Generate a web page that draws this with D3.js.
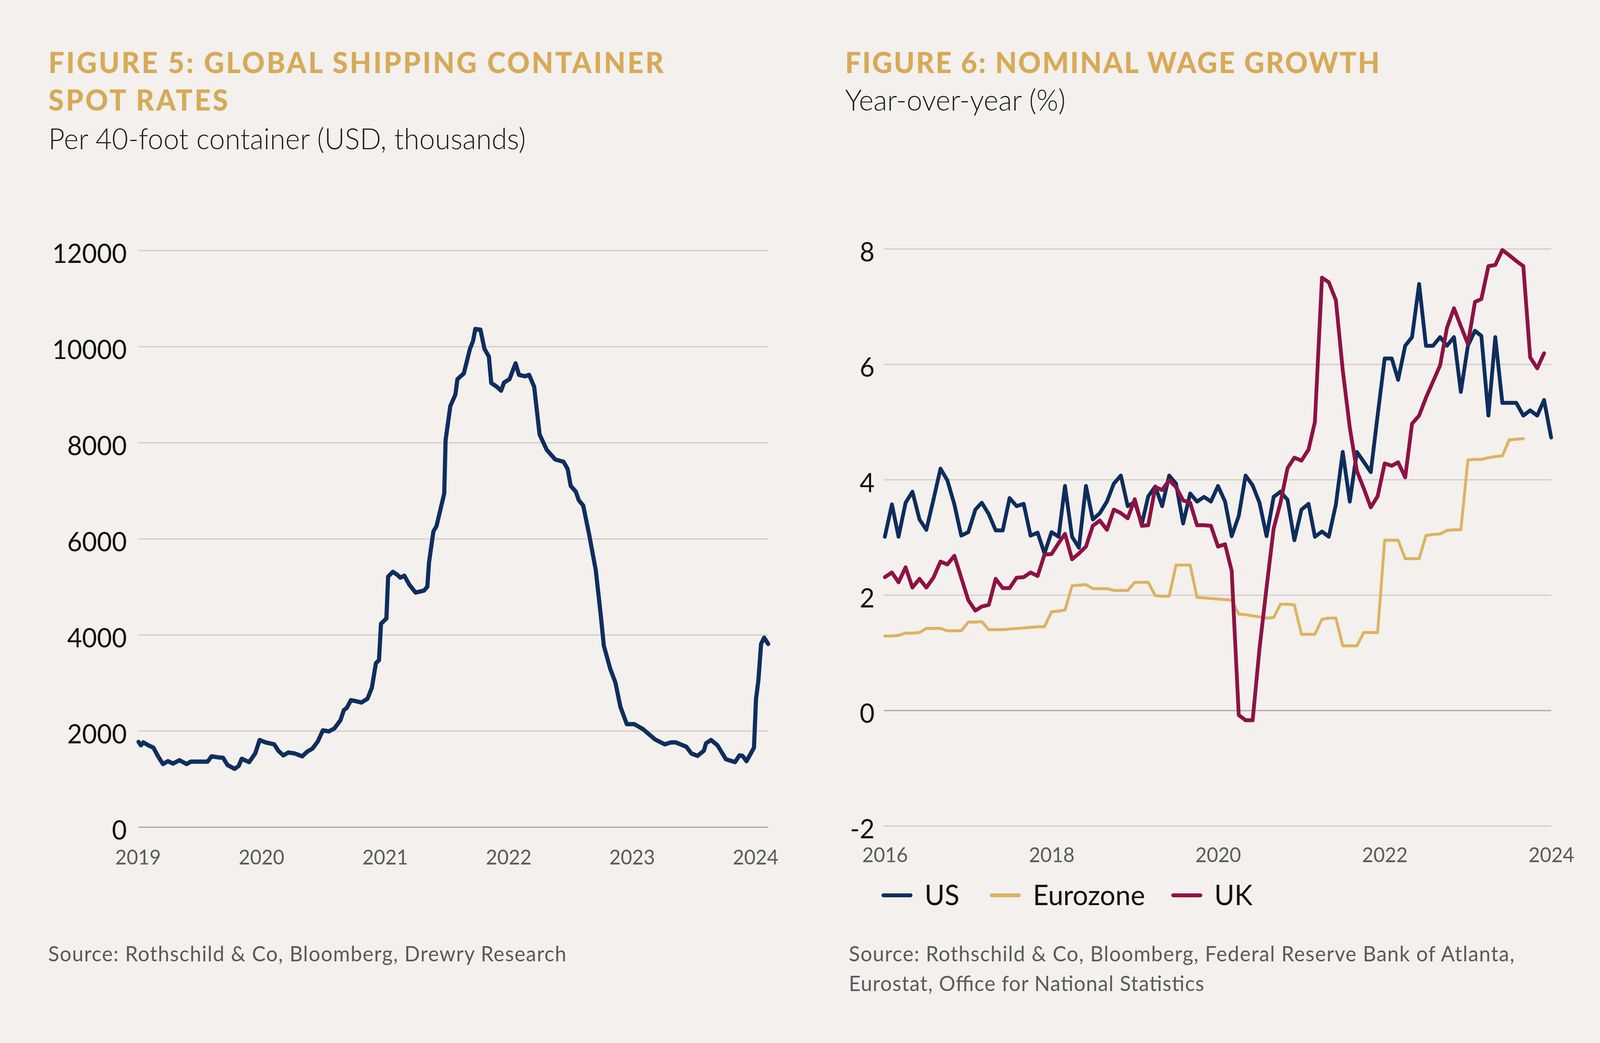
<!DOCTYPE html>
<html>
<head>
<meta charset="utf-8">
<script src="https://cdn.jsdelivr.net/npm/d3@7"></script>
<style>
    html, body { margin: 0; padding: 0; background: #f3f0ed; overflow: hidden; }
    #chart svg { display: block; width: 100vw; height: 100vh; }
    svg text { font-family: Lato, "Noto Sans", sans-serif; }
</style>
</head>
<body>
<div id="chart"></div>
<script>

/* * * * * * * * * * * * * *
*          data            *
* * * * * * * * * * * * * */

// Figure 5 - weekly container spot rate (USD per 40ft)
const shipDates = ["2019-01-03","2019-01-10","2019-01-17","2019-02-01","2019-02-16","2019-03-01","2019-03-16","2019-03-31","2019-04-15","2019-05-04",
    "2019-05-25","2019-06-07","2019-07-01","2019-07-26","2019-08-07","2019-08-26","2019-09-10","2019-09-23","2019-10-14","2019-10-26",
    "2019-11-04","2019-11-26","2019-12-14","2019-12-27","2020-01-14","2020-02-08","2020-02-20","2020-03-06","2020-03-21","2020-04-09",
    "2020-05-01","2020-05-16","2020-05-31","2020-06-16","2020-07-01","2020-07-19","2020-08-04","2020-08-22","2020-09-01","2020-09-10",
    "2020-09-22","2020-10-05","2020-10-23","2020-11-10","2020-11-23","2020-12-05","2020-12-14","2020-12-20","2021-01-05","2021-01-10",
    "2021-01-24","2021-02-06","2021-02-15","2021-02-27","2021-03-14","2021-04-01","2021-04-14","2021-04-26","2021-05-06","2021-05-11",
    "2021-05-24","2021-06-02","2021-06-25","2021-06-29","2021-07-13","2021-07-28","2021-08-03","2021-08-22","2021-09-09","2021-09-18",
    "2021-09-25","2021-10-10","2021-10-22","2021-11-04","2021-11-11","2021-11-28","2021-12-10","2021-12-19","2022-01-04","2022-01-22",
    "2022-02-01","2022-02-19","2022-03-03","2022-03-18","2022-04-03","2022-04-24","2022-05-19","2022-06-13","2022-06-25","2022-07-04",
    "2022-07-19","2022-07-28","2022-08-10","2022-08-28","2022-09-16","2022-10-01","2022-10-10","2022-10-29","2022-11-13","2022-11-28",
    "2022-12-17","2023-01-08","2023-02-02","2023-03-11","2023-04-08","2023-04-26","2023-05-11","2023-06-11","2023-06-26","2023-07-14",
    "2023-08-02","2023-08-08","2023-08-23","2023-09-11","2023-10-06","2023-11-02","2023-11-15","2023-11-24","2023-12-06","2023-12-28",
    "2024-01-03","2024-01-10","2024-01-18","2024-01-27","2024-02-08"];

const shipRates = [1770,1700,1760,1700,1650,1480,1310,1370,1320,1390,
    1310,1360,1360,1360,1470,1450,1440,1290,1210,1270,
    1420,1350,1530,1810,1760,1720,1590,1490,1550,1530,
    1470,1570,1630,1780,2010,1990,2050,2220,2430,2480,
    2640,2620,2590,2670,2900,3410,3470,4230,4340,5210,
    5310,5250,5190,5230,5040,4880,4900,4920,5000,5510,
    6150,6260,6940,8050,8760,9000,9320,9440,9950,10110,
    10365,10350,9950,9790,9240,9160,9080,9250,9320,9650,
    9410,9380,9410,9160,8170,7850,7650,7600,7450,7100,
    6980,6800,6690,6070,5350,4400,3770,3290,3010,2500,
    2140,2140,2040,1820,1720,1760,1760,1670,1530,1480,
    1590,1740,1810,1700,1410,1350,1490,1480,1370,1650,
    2660,3050,3810,3940,3810];

const shipYears = [2019, 2020, 2021, 2022, 2023, 2024];
const shipTicks = [0, 2000, 4000, 6000, 8000, 10000, 12000];

// Figure 6 - monthly wage growth, first month Jan 2016
const wageStart = "2016-01-01";
const wageEnd = "2024-01-01";

const usWage = [3.01,3.57,3.01,3.60,3.79,3.31,3.13,3.65,4.19,3.99,
    3.57,3.03,3.09,3.48,3.60,3.40,3.12,3.12,3.68,3.54,
    3.58,3.03,3.08,2.72,3.09,3.01,3.89,3.01,2.82,3.89,
    3.31,3.42,3.62,3.93,4.07,3.54,3.61,3.23,3.71,3.88,
    3.54,4.07,3.93,3.24,3.76,3.62,3.70,3.62,3.89,3.62,
    3.02,3.37,4.07,3.90,3.60,3.02,3.70,3.79,3.65,2.95,
    3.48,3.58,3.01,3.10,3.01,3.57,4.48,3.62,4.48,4.31,
    4.13,5.11,6.10,6.10,5.73,6.32,6.47,7.39,6.32,6.32,
    6.47,6.32,6.47,5.52,6.32,6.58,6.49,5.11,6.47,5.33,
    5.33,5.33,5.11,5.20,5.11,5.38,4.73];

const euroWage = [1.29,1.29,1.30,1.34,1.34,1.35,1.42,1.42,1.42,1.38,
    1.38,1.38,1.53,1.53,1.54,1.40,1.40,1.40,1.41,1.42,
    1.43,1.44,1.45,1.45,1.71,1.72,1.74,2.16,2.17,2.18,
    2.11,2.11,2.11,2.08,2.08,2.08,2.22,2.22,2.22,1.99,
    1.98,1.98,2.52,2.52,2.52,1.96,1.95,1.94,1.93,1.92,
    1.91,1.67,1.66,1.64,1.62,1.60,1.61,1.84,1.84,1.83,
    1.32,1.32,1.32,1.58,1.60,1.60,1.12,1.12,1.12,1.35,
    1.35,1.35,2.95,2.95,2.95,2.63,2.63,2.63,3.03,3.05,
    3.06,3.12,3.13,3.13,4.34,4.35,4.35,4.38,4.40,4.41,
    4.69,4.70,4.71];

const ukWage = [2.31,2.39,2.22,2.48,2.13,2.28,2.13,2.30,2.58,2.53,
    2.68,2.30,1.91,1.73,1.80,1.83,2.28,2.12,2.12,2.30,
    2.31,2.39,2.33,2.70,2.71,2.90,3.06,2.62,2.72,2.84,
    3.20,3.29,3.13,3.48,3.42,3.33,3.66,3.20,3.21,3.87,
    3.82,3.99,3.87,3.64,3.60,3.21,3.21,3.20,2.84,2.88,
    2.42,-0.08,-0.17,-0.17,1.07,2.13,3.15,3.60,4.20,4.38,
    4.33,4.52,5.00,7.50,7.42,7.11,5.90,4.90,4.15,3.85,
    3.52,3.71,4.28,4.24,4.30,4.04,4.97,5.11,5.42,5.70,
    5.98,6.63,6.97,6.66,6.35,7.08,7.13,7.70,7.72,7.98,
    7.89,7.79,7.70,6.12,5.93,6.19];

const wageNames = ["US", "Eurozone", "UK"];
const wageColors = ["#0e2d5d", "#ddb260", "#8e1244"];
const wageYears = [2016, 2018, 2020, 2022, 2024];
const wageTicks = [-2, 0, 2, 4, 6, 8];


/* * * * * * * * * * * * * *
*        drawing           *
* * * * * * * * * * * * * */

const W = 4224, H = 2670;
const parseDate = d3.timeParse("%Y-%m-%d");

// drawn in a fixed 4224x2670 space, stretched to fill the window
const svg = d3.select("#chart").append("svg")
    .attr("viewBox", `0 0 ${W} ${H}`)
    .attr("preserveAspectRatio", "none");

svg.append("rect")
    .attr("width", W)
    .attr("height", H)
    .attr("fill", "#f3f0ed");

// heading lines, stretched to the widths seen in the original
function addText(x, y, str, size, weight, fill, len) {
    let t = svg.append("text")
        .attr("x", x)
        .attr("y", y)
        .attr("font-size", size)
        .attr("font-weight", weight)
        .attr("fill", fill)
        .text(str);
    if (len) t.attr("textLength", len).attr("lengthAdjust", "spacing");
    return t;
}

const gold = "#d7aa58";

addText(128, 187, "FIGURE 5: GLOBAL SHIPPING CONTAINER", 74, 900, gold, 1624);
addText(128, 283, "SPOT RATES", 74, 900, gold, 474);
addText(128, 382, "Per 40-foot container (USD, thousands)", 74, 300, "#1c1c1c", 1260);

addText(2231, 187, "FIGURE 6: NOMINAL WAGE GROWTH", 74, 900, gold, 1411);
addText(2231, 283, "Year-over-year (%)", 74, 300, "#1c1c1c", 582);

addText(127, 2461, "Source: Rothschild & Co, Bloomberg, Drewry Research", 54, 400, "#5a5a5a", 1368);
addText(2241, 2461, "Source: Rothschild & Co, Bloomberg, Federal Reserve Bank of Atlanta,", 54, 400, "#5a5a5a", 1757);
addText(2241, 2537, "Eurostat, Office for National Statistics", 54, 400, "#5a5a5a", 938);


// one panel = grid + axes + lines
function drawPanel(p) {
    let g = svg.append("g");

    let x = d3.scaleTime().domain(p.xDomain).range([p.left, p.right]);
    let y = d3.scaleLinear().domain(p.yDomain).range([p.bottom, p.top]);

    let yAxis = d3.axisLeft(y)
        .tickValues(p.yTicks)
        .tickFormat(d => String(d))
        .tickSize(-(p.right - p.gridLeft))
        .tickPadding(p.left - p.labelRight + (p.gridLeft - p.left));

    let yg = g.append("g")
        .attr("transform", `translate(${p.gridLeft},0)`)
        .call(yAxis);
    yg.select(".domain").remove();
    yg.selectAll(".tick line")
        .attr("stroke", d => d === 0 ? "#a9a5a2" : "#d3ccc8")
        .attr("stroke-width", 3);
    yg.selectAll(".tick text")
        .attr("dy", "0.46em")
        .attr("font-size", 68)
        .attr("fill", "#111");

    let xAxis = d3.axisBottom(x)
        .tickValues(p.xYears.map(yr => new Date(yr, 0, 1)))
        .tickFormat(d3.timeFormat("%Y"))
        .tickSize(0);

    let xg = g.append("g")
        .attr("transform", `translate(0,${p.bottom})`)
        .call(xAxis);
    xg.select(".domain").remove();
    xg.selectAll(".tick text")
        .attr("y", p.labelDrop)
        .attr("dy", null)
        .attr("font-size", 52)
        .attr("fill", "#5a5a5a");

    let line = d3.line()
        .x(d => x(d.date))
        .y(d => y(d.value));

    p.series.forEach(s => {
        g.append("path")
            .datum(s.values)
            .attr("fill", "none")
            .attr("stroke", s.color)
            .attr("stroke-width", s.width)
            .attr("stroke-linejoin", "round")
            .attr("stroke-linecap", "round")
            .attr("d", line);
    });
}

// Figure 5
let shipData = shipDates.map((d, i) => ({date: parseDate(d), value: shipRates[i]}));

drawPanel({
    xDomain: [parseDate("2019-01-01"), parseDate("2024-02-08")],
    yDomain: [0, 12000],
    left: 364, right: 2028, gridLeft: 366,
    top: 641, bottom: 2117,
    labelRight: 335, labelDrop: 96,
    xYears: shipYears,
    yTicks: shipTicks,
    series: [{values: shipData, color: "#0f2e5e", width: 11}]
});

// Figure 6
let months = d3.timeMonth.range(parseDate(wageStart), d3.timeMonth.offset(parseDate(wageEnd), 1));
let wageSeries = [usWage, euroWage, ukWage].map((arr, i) => ({
    name: wageNames[i],
    color: wageColors[i],
    width: i === 1 ? 7.5 : 10,
    values: arr.map((v, j) => ({date: months[j], value: v}))
}));

drawPanel({
    xDomain: [parseDate(wageStart), parseDate(wageEnd)],
    yDomain: [-2, 8],
    left: 2336, right: 4095, gridLeft: 2333,
    top: 637, bottom: 2114,
    labelRight: 2309, labelDrop: 93,
    xYears: wageYears,
    yTicks: wageTicks,
    series: wageSeries
});

// legend
let legendX = [2332, 2618, 3097];
let legend = svg.append("g").attr("transform", "translate(0,2292)");
wageSeries.forEach((s, i) => {
    let item = legend.append("g").attr("transform", `translate(${legendX[i]},0)`);
    item.append("line")
        .attr("x1", 0).attr("x2", 72)
        .attr("stroke", s.color)
        .attr("stroke-width", 10)
        .attr("stroke-linecap", "round");
    item.append("text")
        .attr("x", 109)
        .attr("y", 25)
        .attr("font-size", 72)
        .attr("fill", "#111")
        .text(s.name);
});

</script>
</body>
</html>
